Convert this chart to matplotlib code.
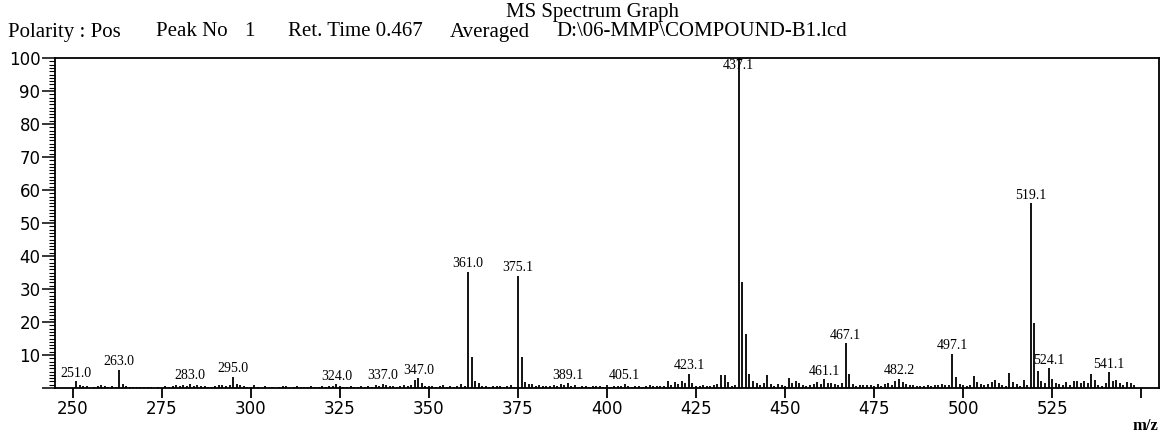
import numpy as np
import matplotlib
matplotlib.use('Agg')
from matplotlib import pyplot as plt

# m/z 250 .. 548, one stick per unit (relative intensity, %)
mz_start = 250
intensity = [
    0.0, 2.0, 0.8, 0.5, 0.6, 0.0, 0.3, 0.5, 0.9, 0.6,   # 250
    0.4, 0.5, 0.3, 5.6, 1.3, 0.6, 0.3, 0.4, 0.4, 0.3,   # 260
    0.4, 0.3, 0.3, 0.0, 0.3, 0.0, 0.5, 0.4, 0.6, 0.9,   # 270
    0.5, 0.9, 0.6, 1.3, 0.5, 1.0, 0.6, 0.5, 0.3, 0.4,   # 280
    0.5, 0.8, 0.9, 0.7, 0.8, 3.4, 1.2, 0.8, 0.5, 0.4,   # 290
    0.3, 0.9, 0.3, 0.0, 0.6, 0.0, 0.3, 0.0, 0.3, 0.7,   # 300
    0.5, 0.0, 0.4, 0.6, 0.3, 0.4, 0.3, 0.5, 0.3, 0.4,   # 310
    0.5, 0.4, 0.6, 0.7, 1.1, 0.5, 0.4, 0.3, 0.6, 0.4,   # 320
    0.4, 0.5, 0.4, 0.6, 0.3, 0.8, 0.6, 1.3, 0.8, 0.5,   # 330
    0.6, 0.4, 0.5, 0.8, 0.5, 1.0, 2.4, 3.0, 1.5, 0.6,   # 340
    0.5, 0.5, 0.3, 0.5, 0.8, 0.4, 0.5, 0.4, 0.7, 1.2,   # 350
    0.6, 35.2, 9.3, 2.2, 1.4, 0.6, 0.5, 0.3, 0.5, 0.6,  # 360
    0.5, 0.4, 0.6, 0.8, 0.4, 34.0, 9.3, 1.8, 1.3, 1.2,  # 370
    0.6, 0.8, 0.5, 0.7, 0.6, 0.9, 0.5, 1.3, 0.8, 1.4,   # 380
    0.6, 0.8, 0.4, 0.5, 0.6, 0.4, 0.5, 0.7, 0.5, 0.3,   # 390
    0.8, 0.4, 0.6, 0.5, 0.6, 1.3, 0.5, 0.4, 0.6, 0.5,   # 400
    0.4, 0.6, 0.8, 0.6, 0.5, 0.7, 0.6, 2.0, 0.8, 1.8,   # 410
    1.3, 2.0, 1.6, 4.3, 1.5, 0.7, 0.5, 0.8, 0.6, 0.7,   # 420
    1.0, 1.2, 3.8, 4.0, 1.8, 0.6, 0.8, 100.0, 32.0, 16.5,  # 430
    4.3, 2.0, 1.4, 1.0, 1.5, 4.0, 1.2, 0.5, 1.3, 0.8,   # 440
    0.6, 3.0, 1.5, 2.0, 1.5, 1.0, 0.5, 0.8, 1.3, 1.8,   # 450
    1.2, 2.6, 1.6, 1.4, 1.2, 1.0, 1.5, 13.6, 4.3, 1.3,  # 460
    0.6, 0.9, 0.8, 0.9, 0.8, 0.6, 1.3, 0.7, 1.2, 1.5,   # 470
    1.0, 2.0, 2.8, 1.7, 1.2, 0.8, 1.0, 0.5, 0.6, 0.5,   # 480
    0.9, 0.5, 0.8, 1.0, 1.2, 0.9, 0.8, 10.4, 3.4, 1.3,  # 490
    0.9, 0.7, 1.0, 3.7, 1.8, 1.3, 0.8, 1.1, 1.8, 2.3,   # 500
    1.5, 1.0, 0.7, 4.4, 1.8, 1.3, 0.6, 2.4, 0.8, 56.0,  # 510
    19.8, 5.2, 2.0, 1.6, 6.0, 2.8, 1.5, 1.2, 0.8, 1.7,  # 520
    0.9, 2.2, 2.2, 1.4, 2.1, 1.5, 4.2, 2.5, 1.0, 0.6,   # 530
    1.6, 4.7, 2.2, 2.5, 1.5, 1.0, 1.8, 1.4, 0.8,        # 540
]

label_mz = [251, 263, 283, 295, 324, 337, 347, 361, 375, 389,
            405, 423, 437, 461, 467, 482, 497, 519, 524, 541]
label_txt = ['251.0', '263.0', '283.0', '295.0', '324.0', '337.0', '347.0',
             '361.0', '375.1', '389.1', '405.1', '423.1', '437.1', '461.1',
             '467.1', '482.2', '497.1', '519.1', '524.1', '541.1']

x_ticks = [250, 275, 300, 325, 350, 375, 400, 425, 450, 475, 500, 525, 550]
x_ticklabels = ['250', '275', '300', '325', '350', '375', '400', '425',
                '450', '475', '500', '525', '']
y_ticks = [0, 10, 20, 30, 40, 50, 60, 70, 80, 90, 100]
y_ticklabels = ['', '10', '20', '30', '40', '50', '60', '70', '80', '90', '100']

mz = np.arange(mz_start, mz_start + len(intensity))
inten = np.array(intensity)

fig = plt.figure(figsize=(11.63, 4.32), dpi=100)
ax = fig.add_axes([55/1163, 1 - 388/432, (1159 - 55)/1163, (388 - 58)/432])

ax.vlines(mz[inten > 0], 0, inten[inten > 0], color='black', lw=1.3, zorder=2)

for m, t in zip(label_mz, label_txt):
    v = inten[m - mz_start]
    if v >= 99:
        # base peak: label sits inside the frame, stick runs through it
        ax.annotate(t, (m, v), xytext=(0, -1), textcoords='offset points',
                    ha='center', va='top', fontsize=10, zorder=1,
                    family='Liberation Serif', color='black')
    else:
        ax.annotate(t, (m, v), xytext=(0, 1), textcoords='offset points',
                    ha='center', va='bottom', fontsize=10,
                    family='Liberation Serif', color='black')

ax.set_xlim(245, 555)
ax.set_ylim(0, 100)
ax.set_xticks(x_ticks)
ax.set_xticklabels(x_ticklabels)
ax.set_yticks(y_ticks)
ax.set_yticklabels(y_ticklabels)
ax.set_yticks(np.arange(0, 101, 1), minor=True)
ax.tick_params(axis='x', direction='out', length=7, width=1.3, pad=2,
               labelsize=12, colors='black')
ax.tick_params(axis='y', which='major', direction='out', length=9.5, width=1.1,
               pad=1, labelsize=12, colors='black')
ax.tick_params(axis='y', which='minor', direction='out', length=4.5, width=0.8)
for lab in ax.get_xticklabels() + ax.get_yticklabels():
    lab.set_family('DejaVu Sans')
for s in ax.spines.values():
    s.set_linewidth(1.3)

fig.text(592/1163, 1 - 13/432, 'MS Spectrum Graph', ha='center', va='center',
         fontsize=15, family='Liberation Serif')
hdr = [(8, 'Polarity : Pos'), (156, 'Peak No'), (244, '1'),
       (288, 'Ret. Time 0.467'), (450, 'Averaged'),
       (556, 'D:\\06-MMP\\COMPOUND-B1.lcd')]
for x, t in hdr:
    fig.text(x/1163, 1 - 32/432, t, ha='left', va='center',
             fontsize=15, family='Liberation Serif')
fig.text(1145/1163, 1 - 426/432, 'm/z', ha='center', va='center',
         fontsize=12, family='Liberation Serif', weight='bold')

fig.savefig('out.png', dpi=100)
